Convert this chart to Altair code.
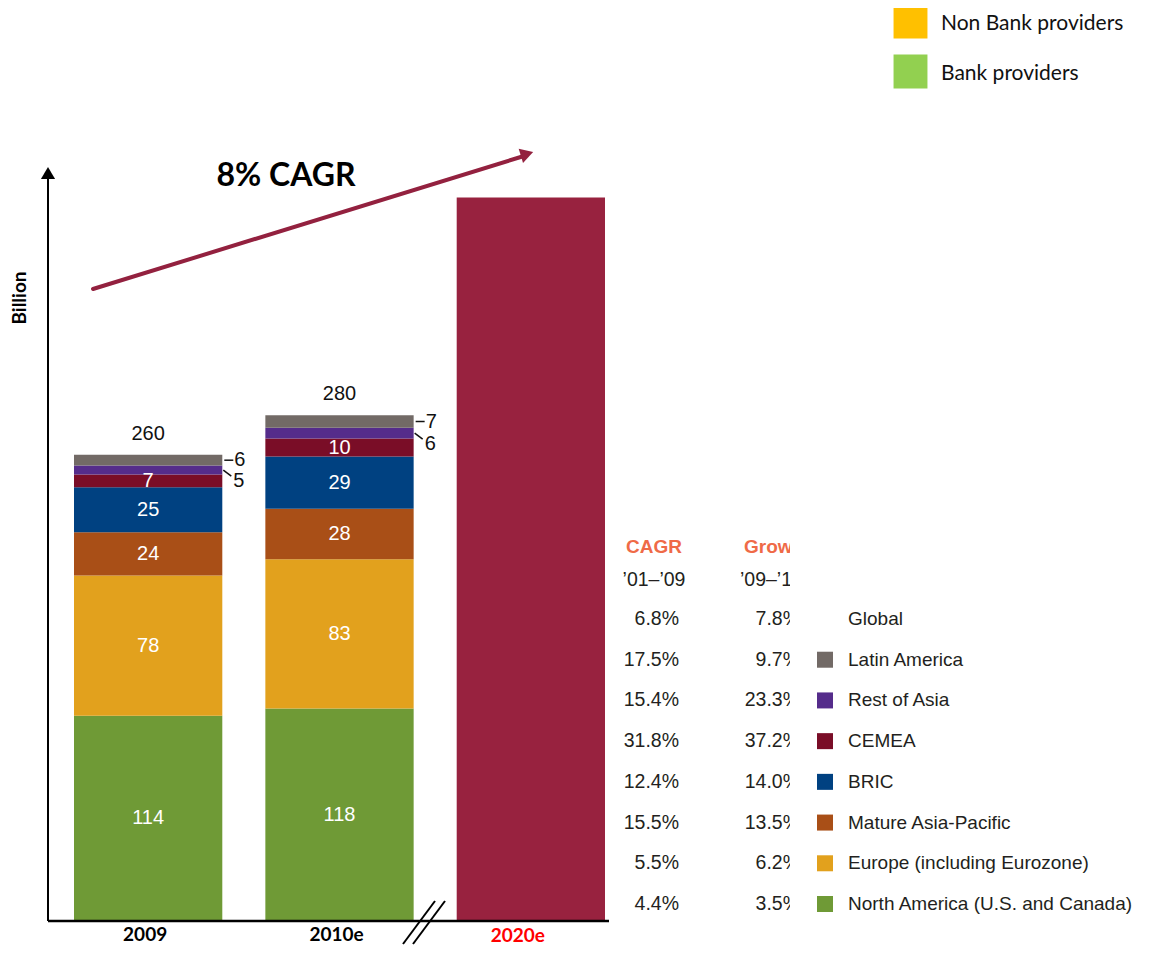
import altair as alt
import pandas as pd

# ---------------- data ----------------
years = ["2009", "2010e", "2020e"]
regions = ["North America (U.S. and Canada)", "Europe (including Eurozone)",
           "Mature Asia-Pacific", "BRIC", "CEMEA", "Rest of Asia", "Latin America"]
region_colors = ["#6F9A36", "#E2A11D", "#A94F17", "#004181", "#7A0D27", "#552C8B", "#726A66"]
values_2009 = [114, 78, 24, 25, 7, 5, 6]
values_2010e = [118, 83, 28, 29, 10, 6, 7]
value_2020e = 402
forecast_color = "#98223F"
totals = [260, 280]
year_label_colors = ["#000000", "#000000", "#FF0000"]

table_rows = ["Global", "Latin America", "Rest of Asia", "CEMEA", "BRIC",
              "Mature Asia-Pacific", "Europe (including Eurozone)", "North America (U.S. and Canada)"]
cagr_01_09 = ["6.8%", "17.5%", "15.4%", "31.8%", "12.4%", "15.5%", "5.5%", "4.4%"]
growth_09_10 = ["7.8%", "9.7%", "23.3%", "37.2%", "14.0%", "13.5%", "6.2%", "3.5%"]

providers = ["Non Bank providers", "Bank providers"]
provider_colors = ["#FFC000", "#92D050"]

# ---------------- tables ----------------
rows = []
for yr, vals in (("2009", values_2009), ("2010e", values_2010e)):
    base = 0
    for i, (r, v, c) in enumerate(zip(regions, vals, region_colors)):
        rows.append(dict(year=yr, region=r, value=v, ord=i, color=c,
                         y0=base, y1=base + v, mid=base + v / 2))
        base += v
rows.append(dict(year="2020e", region="Forecast", value=value_2020e, ord=0,
                 color=forecast_color, y0=0, y1=value_2020e, mid=value_2020e / 2))
df = pd.DataFrame(rows)
df_in = df[(df["year"] != "2020e") & (df["ord"] <= 4)]
df_latam = df[df["region"] == "Latin America"]
df_roa = df[df["region"] == "Rest of Asia"]

df_tot = pd.DataFrame(dict(year=["2009", "2010e"], total=totals,
                           top=[sum(values_2009), sum(values_2010e)]))
df_years = pd.DataFrame(dict(year=years, lc=year_label_colors))
df_years_hist = df_years[df_years["year"] != "2020e"]
df_years_fc = df_years[df_years["year"] == "2020e"]

color_of = dict(zip(regions, region_colors))
df_table = pd.DataFrame(dict(row=table_rows, cagr=cagr_01_09, growth=growth_09_10))
df_sq = pd.DataFrame(dict(row=table_rows[1:], color=[color_of[r] for r in table_rows[1:]]))
df_prov = pd.DataFrame(dict(provider=providers, color=provider_colors))
one = pd.DataFrame(dict(a=[0]))

# ---------------- scales ----------------
xscale = alt.Scale(domain=years, range=[66, 597], paddingInner=0.225, paddingOuter=0)
yscale = alt.Scale(domain=[0, 500], range=[913, 13])
rowscale = alt.Scale(domain=table_rows, range=[611, 896], padding=0)
provscale = alt.Scale(domain=providers, range=[13.5, 63.5], padding=0)

X = alt.X("year:N", scale=xscale, axis=None)
XR = alt.X("year:N", scale=xscale, axis=None, bandPosition=1)
X2R = alt.X2("year:N", bandPosition=1)

FONT = "Liberation Sans"
CAL = "Lato"

bars = alt.Chart(df).mark_bar().encode(
    x=X, y=alt.Y("y0:Q", scale=yscale, axis=None), y2="y1:Q",
    color=alt.Color("color:N", scale=None))

inside = alt.Chart(df_in).mark_text(color="white", fontSize=20, font=FONT, baseline="middle").encode(
    x=X, y=alt.Y("mid:Q", scale=yscale, axis=None), text="value:Q")

latam_txt = alt.Chart(df_latam).mark_text(color="#111", fontSize=20, font=FONT, baseline="middle",
                                          align="left", dx=12).encode(
    x=XR, y=alt.Y("mid:Q", scale=yscale, axis=None), text="value:Q")
roa_txt = alt.Chart(df_roa).mark_text(color="#111", fontSize=20, font=FONT, baseline="middle",
                                      align="left", dx=11, dy=11).encode(
    x=XR, y=alt.Y("mid:Q", scale=yscale, axis=None), text="value:Q")
latam_lead = alt.Chart(df_latam).mark_rule(color="#111", strokeWidth=1.5, xOffset=2, x2Offset=11).encode(
    x=XR, x2=X2R, y=alt.Y("mid:Q", scale=yscale, axis=None), y2="mid:Q")
roa_lead = alt.Chart(df_roa).mark_rule(color="#111", strokeWidth=1.5, xOffset=1, x2Offset=9,
                                       y2Offset=6).encode(
    x=XR, x2=X2R, y=alt.Y("mid:Q", scale=yscale, axis=None), y2="mid:Q")

tot_txt = alt.Chart(df_tot).mark_text(color="#111", fontSize=20, font=FONT, baseline="middle", dy=-21).encode(
    x=X, y=alt.Y("top:Q", scale=yscale, axis=None), text="total:Q")

year_txt = alt.Chart(df_years_hist).mark_text(fontSize=19, font=CAL, fontWeight="bold", baseline="middle",
                                              dx=-3).encode(
    x=X, y=alt.value(927), text="year:N", color=alt.Color("lc:N", scale=None))
year_fc = alt.Chart(df_years_fc).mark_text(fontSize=19, font=CAL, fontWeight="bold", baseline="middle",
                                           dx=-13).encode(
    x=X, y=alt.value(928), text="year:N", color=alt.Color("lc:N", scale=None))

# axes decoration
yaxis = alt.Chart(one).mark_rule(color="black", strokeWidth=2).encode(
    x=alt.value(40), y=alt.value(913), y2=alt.value(170))
yhead = alt.Chart(one).mark_point(shape="triangle-up", filled=True, color="black", size=200, opacity=1).encode(
    x=alt.value(40), y=alt.value(165))
baseline = alt.Chart(one).mark_rule(color="black", strokeWidth=2.5).encode(
    x=alt.value(40), x2=alt.value(601), y=alt.value(913))
brk1 = alt.Chart(one).mark_rule(color="black", strokeWidth=2).encode(
    x=alt.value(395), y=alt.value(936), x2=alt.value(427), y2=alt.value(893))
brk2 = alt.Chart(one).mark_rule(color="black", strokeWidth=2).encode(
    x=alt.value(405), y=alt.value(936), x2=alt.value(437), y2=alt.value(893))
ytitle = alt.Chart(one).mark_text(text="Billion", font=CAL, fontWeight="bold", fontSize=19, angle=270,
                                  baseline="middle").encode(x=alt.value(12), y=alt.value(290))

# CAGR arrow
arrow = alt.Chart(one).mark_rule(color="#93213F", strokeWidth=4, strokeCap="round").encode(
    x=alt.value(85), y=alt.value(281), x2=alt.value(516), y2=alt.value(148))
arrowhead = alt.Chart(one).mark_point(shape="triangle-right", filled=True, color="#93213F", size=220,
                                      opacity=1, angle=343).encode(x=alt.value(519), y=alt.value(146))
cagr_txt = alt.Chart(one).mark_text(text="8% CAGR", font=CAL, fontWeight="bold", fontSize=32,
                                    baseline="middle").encode(x=alt.value(278), y=alt.value(168))

# provider legend
prov_sq = alt.Chart(df_prov).mark_square(size=1150, opacity=1).encode(
    x=alt.value(902.5), y=alt.Y("provider:N", scale=provscale, axis=None),
    color=alt.Color("color:N", scale=None))
prov_txt = alt.Chart(df_prov).mark_text(font=CAL, fontSize=21, align="left", baseline="middle",
                                        color="#111", dy=2).encode(
    x=alt.value(933), y=alt.Y("provider:N", scale=provscale, axis=None), text="provider:N")

# growth table
TC = "#231F20"
HC = "#EF6A47"
hdr1 = alt.Chart(one).mark_text(text="CAGR", font=FONT, fontWeight="bold", fontSize=19, color=HC,
                                baseline="middle").encode(x=alt.value(646), y=alt.value(539))
hdr2 = alt.Chart(one).mark_text(text="Growth", font=FONT, fontWeight="bold", fontSize=19, color=HC,
                                baseline="middle", align="left").encode(x=alt.value(736), y=alt.value(539))
sub1 = alt.Chart(one).mark_text(text="\u201901\u2013\u201909", font=FONT, fontSize=19.5, color=TC,
                                baseline="middle").encode(x=alt.value(646), y=alt.value(572))
sub2 = alt.Chart(one).mark_text(text="\u201909\u2013\u201910", font=FONT, fontSize=19.5, color=TC,
                                baseline="middle", align="left").encode(x=alt.value(732), y=alt.value(572))
col1 = alt.Chart(df_table).mark_text(font=FONT, fontSize=19.5, color=TC, baseline="middle", align="right").encode(
    x=alt.value(671), y=alt.Y("row:N", scale=rowscale, axis=None), text="cagr:N")
col2 = alt.Chart(df_table).mark_text(font=FONT, fontSize=19.5, color=TC, baseline="middle", align="right").encode(
    x=alt.value(792), y=alt.Y("row:N", scale=rowscale, axis=None), text="growth:N")
mask = alt.Chart(one).mark_rect(color="white").encode(
    x=alt.value(782), x2=alt.value(806), y=alt.value(520), y2=alt.value(925))
sq = alt.Chart(df_sq).mark_square(size=256, opacity=1).encode(
    x=alt.value(817), y=alt.Y("row:N", scale=rowscale, axis=None), color=alt.Color("color:N", scale=None))
names = alt.Chart(df_table).mark_text(font=FONT, fontSize=19, color=TC, baseline="middle", align="left").encode(
    x=alt.value(840), y=alt.Y("row:N", scale=rowscale, axis=None), text="row:N")

chart = alt.layer(
    bars, inside, latam_lead, roa_lead, latam_txt, roa_txt, tot_txt, year_txt, year_fc,
    yaxis, yhead, baseline, brk1, brk2, ytitle, arrow, arrowhead, cagr_txt,
    prov_sq, prov_txt, hdr1, hdr2, sub1, sub2, col1, col2, mask, sq, names
).resolve_scale(y="independent").properties(
    width=1135, height=937, padding=0, autosize=alt.AutoSizeParams(type="none")
).configure_view(stroke=None)

chart.save("out.html", embed_options={"renderer": "svg", "actions": False})
